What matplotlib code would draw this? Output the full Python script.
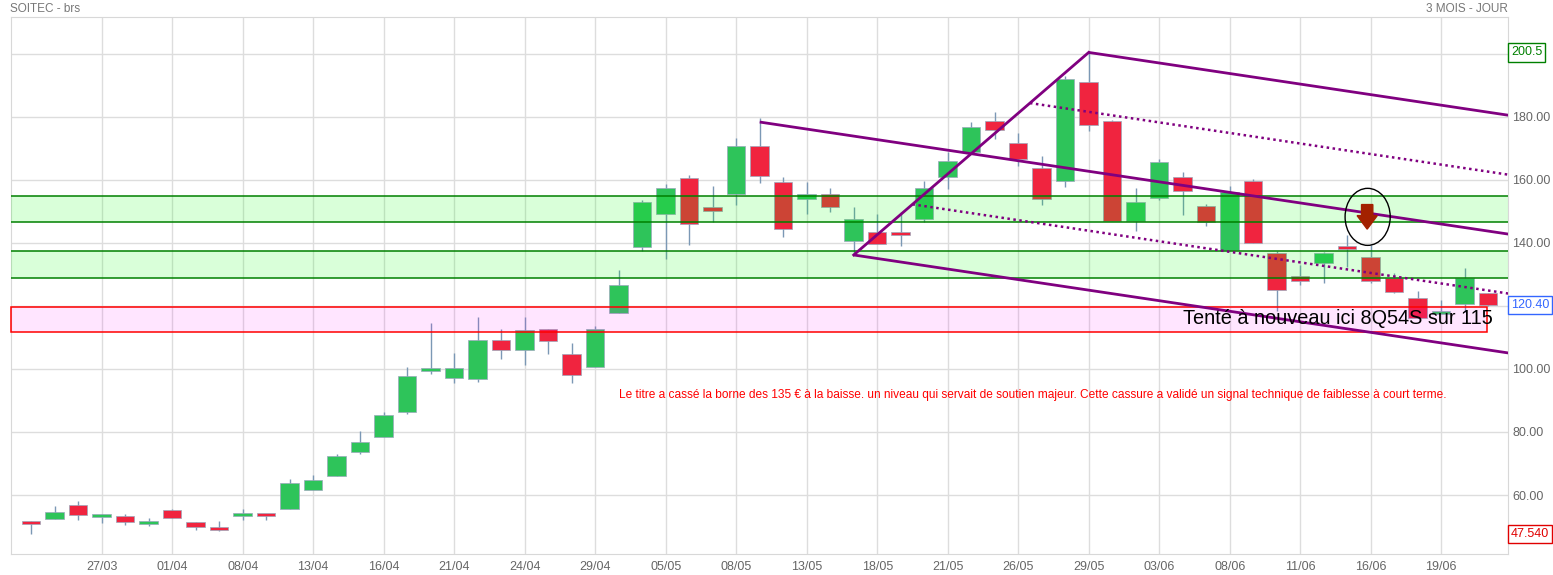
import numpy as np
import matplotlib
matplotlib.use('Agg')
from matplotlib import pyplot as plt
from matplotlib.patches import Rectangle, Ellipse

plt.rcParams['font.family'] = ['Liberation Sans', 'DejaVu Sans']

### Data
opens = [51.3, 52.5, 56.8, 53.1, 53.3, 50.9, 55.2, 51.4, 49.4, 53.4, 54.0,
         55.7, 61.7, 66.1, 73.8, 78.5, 86.2, 99.4, 97.2, 96.9, 109.1, 106.1,
         112.6, 104.7, 100.7, 117.8, 138.8, 149.3, 160.5, 151.0, 155.5, 170.8,
         159.3, 153.9, 155.5, 140.5, 143.4, 143.2, 147.5, 161.0, 168.8, 178.7,
         171.7, 163.8, 159.6, 191.1, 178.7, 147.0, 154.2, 160.9, 151.7, 137.8,
         159.6, 136.9, 129.5, 133.7, 138.8, 135.5, 129.0, 122.4, 117.5, 120.5,
         124.0]
highs = [51.6, 56.5, 58.1, 54.0, 54.0, 52.7, 55.6, 51.4, 51.7, 55.6, 54.0,
         65.1, 66.4, 73.0, 80.3, 86.5, 100.6, 114.5, 105.2, 116.6, 112.7, 116.6,
         112.6, 108.3, 113.7, 131.4, 153.5, 158.6, 161.5, 158.1, 173.4, 179.6,
         161.0, 159.5, 157.5, 151.4, 149.2, 149.7, 159.8, 169.0, 178.4, 181.7,
         174.9, 167.6, 192.9, 200.5, 179.2, 157.5, 166.7, 162.5, 152.4, 158.0,
         160.4, 137.6, 133.0, 137.2, 142.5, 139.4, 130.4, 124.8, 121.9, 132.2,
         124.0]
lows = [47.54, 52.5, 52.1, 51.2, 50.5, 50.3, 52.8, 48.9, 48.7, 52.1, 52.1,
        55.7, 61.5, 66.1, 72.9, 78.5, 85.8, 98.4, 95.6, 96.0, 103.3, 101.4,
        104.9, 95.6, 100.7, 117.8, 137.6, 134.9, 139.4, 146.6, 152.0, 158.9,
        141.8, 149.1, 149.7, 136.2, 139.8, 139.1, 146.8, 157.2, 168.8, 172.9,
        164.3, 152.2, 157.7, 175.4, 147.0, 143.9, 153.5, 149.0, 145.3, 137.8,
        140.0, 118.5, 126.7, 127.4, 132.3, 127.2, 124.0, 116.1, 117.5, 118.2,
        120.0]
closes = [50.7, 54.5, 53.5, 54.0, 51.5, 51.7, 52.8, 49.9, 49.0, 54.3, 53.4,
          63.8, 64.7, 72.4, 76.8, 85.4, 97.8, 99.7, 100.2, 109.1, 106.1, 112.3,
          109.0, 98.2, 112.6, 126.7, 152.9, 157.4, 146.1, 150.3, 170.8, 161.2,
          144.3, 155.5, 151.3, 147.6, 139.8, 142.6, 157.5, 166.0, 176.8, 175.8,
          166.7, 153.9, 192.1, 177.5, 147.0, 153.0, 165.7, 156.5, 146.6, 156.1,
          140.0, 125.1, 128.0, 136.8, 138.2, 128.0, 124.4, 116.1, 118.2, 129.0,
          120.4]

date_labels = ['27/03', '01/04', '08/04', '13/04', '16/04', '21/04', '24/04',
               '29/04', '05/05', '08/05', '13/05', '18/05', '21/05', '26/05',
               '29/05', '03/06', '08/06', '11/06', '16/06', '19/06']
date_idx = list(range(3, 61, 3))

# horizontal zones
green_zones = [(146.8, 155.0), (128.9, 137.6)]
pink_zone = (111.7, 119.6)
pink_zone_end = 61.95

# pitchfork pivots (candle index, price)
pf_a = (31, 178.4)
pf_b = (35, 136.2)
pf_c = (45, 200.5)

last_price = 120.40
period_high = 200.5
period_low = 47.54

# ----------------------------------------------------------------------------

o = np.array(opens)
h = np.array(highs)
l = np.array(lows)
c = np.array(closes)
x = np.arange(len(o))

fig = plt.figure(figsize=(15.53, 5.75), dpi=100)
ax = fig.add_axes([10.7/1553, 21/575, 1497.6/1553, 536.7/575])
x0, x1 = -0.872, 62.855
ax.set_xlim(x0, x1)
ax.set_ylim(41.27, 211.65)

green = '#2ec45a'
red = '#f0243f'
up = c >= o
colors = np.where(up, green, red)
body_lo = np.minimum(o, c)
body_h = np.maximum(np.abs(c - o), 1.0)

ax.vlines(x, l, h, color='#7b98b5', lw=1.0, zorder=2)
ax.bar(x, body_h, bottom=body_lo, width=0.79, color=colors,
       edgecolor='#9aa8bb', linewidth=0.5, zorder=3)

# zones (drawn over the candles, translucent)
for lo, hi in green_zones:
    ax.axhspan(lo, hi, color='#00ff00', alpha=0.15, lw=0, zorder=4)
    ax.axhline(lo, color='#008000', lw=1.1, zorder=4)
    ax.axhline(hi, color='#008000', lw=1.1, zorder=4)
ax.add_patch(Rectangle((x0, pink_zone[0]), pink_zone_end - x0,
                       pink_zone[1] - pink_zone[0], facecolor=(1, 0, 1, 0.1),
                       edgecolor='#ff0000', lw=1.1, zorder=4, clip_on=False))

# pitchfork
mid = ((pf_b[0] + pf_c[0]) / 2, (pf_b[1] + pf_c[1]) / 2)
slope = (mid[1] - pf_a[1]) / (mid[0] - pf_a[0])
purple = '#800080'
for px, py in [pf_a, pf_b, pf_c]:
    ax.plot([px, x1], [py, py + slope*(x1 - px)], color=purple, lw=2,
            zorder=5, solid_capstyle='butt')
ax.plot([pf_b[0], pf_c[0]], [pf_b[1], pf_c[1]], color=purple, lw=2, zorder=5)
for frac in [0.25, 0.75]:
    qx = pf_b[0] + frac*(pf_c[0] - pf_b[0])
    qy = pf_b[1] + frac*(pf_c[1] - pf_b[1])
    ax.plot([qx, x1], [qy, qy + slope*(x1 - qx)], color=purple, lw=1.8,
            ls=(0, (1, 1.4)), zorder=5)

# signal marker
ax.add_patch(Ellipse((56.87, 148.3), 1.92, 18.1, fill=False, ec='black',
                     lw=1, zorder=6))
ax.arrow(56.85, 152.2, 0, -3.5, width=0.48, head_width=0.86,
         head_length=4.3, length_includes_head=False, color='#a32100',
         zorder=6)

ax.text(62.2, 116.0, 'Tenté à nouveau ici 8Q54S sur 115', ha='right',
        va='center', fontsize=14.3, color='black', zorder=7)
ax.text(25.02, 91.75, 'Le titre a cassé la borne des 135 € à la baisse. '
        'un niveau qui servait de soutien majeur. Cette cassure a validé '
        'un signal technique de faiblesse à court terme.', ha='left',
        va='center', fontsize=8.58, color='#ff0000', zorder=7)

# axes styling
ax.set_xticks(date_idx)
ax.set_xticklabels(date_labels)
ax.set_yticks([60, 80, 100, 120, 140, 160, 180, 200])
ax.set_yticklabels(['60.00', '80.00', '100.00', '', '140.00', '160.00',
                    '180.00', ''])
ax.yaxis.tick_right()
ax.tick_params(axis='both', length=0, labelsize=9, labelcolor='#666666')
ax.tick_params(axis='y', pad=3)
ax.tick_params(axis='x', pad=5)
ax.grid(True, color='#dddddd', lw=1, zorder=0)
ax.set_axisbelow(True)
for s in ax.spines.values():
    s.set_color('#d8d8d8')

yx = ax.get_yaxis_transform()
for val, txt, col in [(period_high, '200.5', '#008000'),
                      (last_price, '120.40', '#3366ff'),
                      (period_low, '47.540', '#e00000')]:
    ax.text(1.0018, val, txt, transform=yx, ha='left', va='center',
            fontsize=9, color=col, clip_on=False,
            bbox=dict(boxstyle='square,pad=0.25', fc='white', ec=col, lw=1))

fig.text(10/1553, 1 - 9/575, 'SOITEC - brs', ha='left', va='center',
         fontsize=8.5, color='#777777')
fig.text(1508/1553, 1 - 9/575, '3 MOIS - JOUR', ha='right', va='center',
         fontsize=8.5, color='#777777')

fig.savefig('out.png', dpi=100)
